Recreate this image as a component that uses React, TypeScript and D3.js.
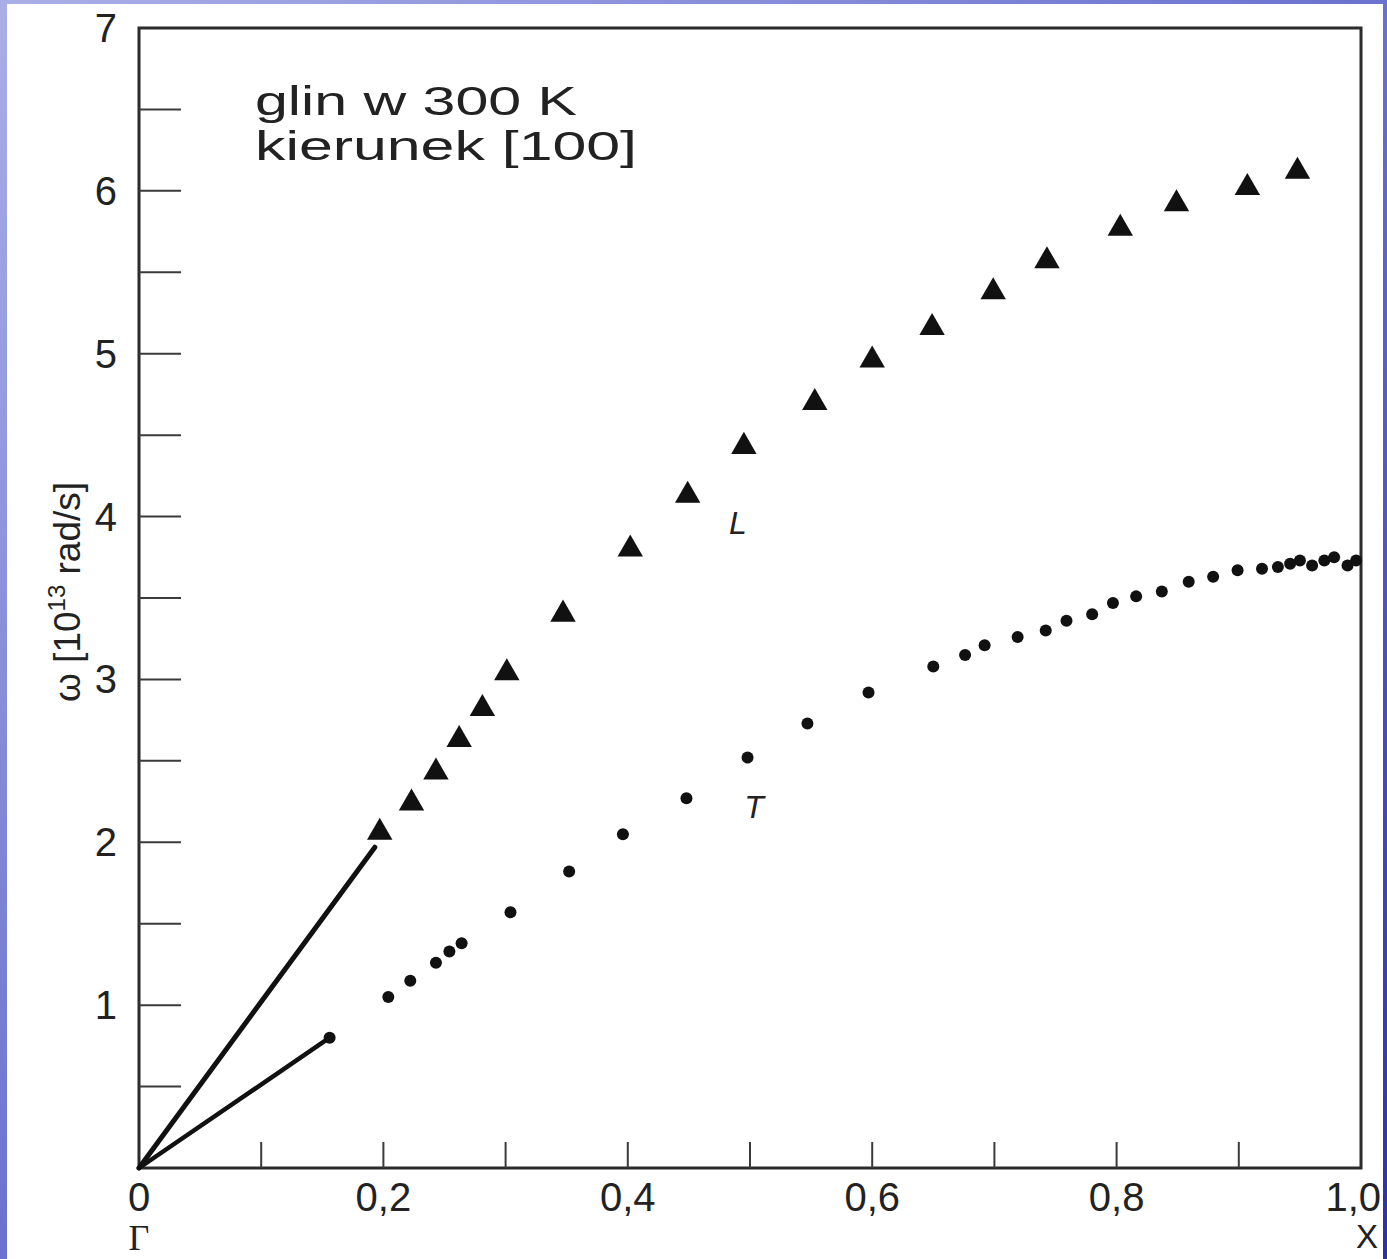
import React from "react";
import * as d3 from "d3";

const W = 1387;
const H = 1259;

// Longitudinal branch (triangles), x in units of Γ→X, ω in 10^13 rad/s
const lX = [0.197, 0.223, 0.243, 0.262, 0.281, 0.301, 0.347, 0.402, 0.449, 0.495, 0.553, 0.6, 0.649, 0.699, 0.743, 0.803, 0.849, 0.907, 0.948];
const lY = [2.06, 2.24, 2.43, 2.63, 2.82, 3.04, 3.4, 3.8, 4.13, 4.43, 4.7, 4.96, 5.16, 5.38, 5.57, 5.77, 5.92, 6.02, 6.12];

// Transverse branch (dots)
const tX = [0.156, 0.204, 0.222, 0.243, 0.254, 0.264, 0.304, 0.352, 0.396, 0.448, 0.498, 0.547, 0.597, 0.65, 0.676, 0.692, 0.719, 0.742, 0.759, 0.78, 0.797, 0.816, 0.837, 0.859, 0.879, 0.899, 0.919, 0.932, 0.942, 0.95, 0.96, 0.97, 0.978, 0.989, 0.996];
const tY = [0.8, 1.05, 1.15, 1.26, 1.33, 1.38, 1.57, 1.82, 2.05, 2.27, 2.52, 2.73, 2.92, 3.08, 3.15, 3.21, 3.26, 3.3, 3.36, 3.4, 3.47, 3.51, 3.54, 3.6, 3.63, 3.67, 3.68, 3.69, 3.71, 3.73, 3.7, 3.73, 3.75, 3.7, 3.73];

// Low-q straight lines (sound velocity)
const lLine = [[0, 0], [0.193, 1.97]];
const tLine = [[0, 0], [0.156, 0.8]];

const yTickValues = [0.5, 1, 1.5, 2, 2.5, 3, 3.5, 4, 4.5, 5, 5.5, 6, 6.5];
const yLabelValues = [1, 2, 3, 4, 5, 6, 7];
const xTickValues = [0.1, 0.2, 0.3, 0.4, 0.5, 0.6, 0.7, 0.8, 0.9];
const xLabelValues = [0, 0.2, 0.4, 0.6, 0.8, 1.0];
const xLabelTexts = ["0", "0,2", "0,4", "0,6", "0,8", "1,0"];

const FONT = "'Liberation Sans', Arial, sans-serif";

export default function App() {
  const x = d3.scaleLinear().domain([0, 1]).range([139, 1361]);
  const y = d3.scaleLinear().domain([0, 7]).range([1168, 28]);
  const line = d3.line<number[]>().x((d) => x(d[0])).y((d) => y(d[1]));
  const tri = d3.symbol().type(d3.symbolTriangle).size(280);
  const ink = "#111";
  const axisInk = "#2b2b2b";

  return (
    <svg width={W} height={H} style={{ position: "absolute", left: 0, top: 0 }} xmlns="http://www.w3.org/2000/svg">
      <defs>
        <linearGradient id="bg" x1="0" y1="0" x2="1" y2="1">
          <stop offset="0" stopColor="#a9afe6" />
          <stop offset="0.45" stopColor="#7078d2" />
          <stop offset="1" stopColor="#2f30a8" />
        </linearGradient>
        <clipPath id="paper">
          <rect x={7} y={4} width={1376} height={H - 4} />
        </clipPath>
      </defs>
      <rect x={0} y={0} width={W} height={H} fill="url(#bg)" />
      <g clipPath="url(#paper)">
        <rect x={7} y={4} width={1376} height={H - 4} fill="#ffffff" />

        {/* frame */}
        <rect x={x(0)} y={y(7)} width={x(1) - x(0)} height={y(0) - y(7)} fill="none" stroke={axisInk} strokeWidth={3} />

        {/* y ticks (inward) */}
        {yTickValues.map((v) => (
          <line key={"yt" + v} x1={x(0)} x2={x(0) + 42} y1={y(v)} y2={y(v)} stroke="#3a3a3a" strokeWidth={2} />
        ))}
        {/* x ticks (inward) */}
        {xTickValues.map((v) => (
          <line key={"xt" + v} x1={x(v)} x2={x(v)} y1={y(0)} y2={y(0) - 26} stroke="#3a3a3a" strokeWidth={2} />
        ))}

        {/* y tick labels */}
        {yLabelValues.map((v) => (
          <text key={"yl" + v} x={117} y={y(v) + 14} textAnchor="end" fontFamily={FONT} fontSize={40} fill="#222">
            {v}
          </text>
        ))}
        {/* x tick labels */}
        {xLabelValues.map((v, i) => (
          <text key={"xl" + v} x={i === xLabelValues.length - 1 ? 1381 : x(v)} y={1211} textAnchor={i === xLabelValues.length - 1 ? "end" : "middle"} fontFamily={FONT} fontSize={40} fill="#222">
            {xLabelTexts[i]}
          </text>
        ))}
        <text x={x(0)} y={1250} textAnchor="middle" fontFamily="'Liberation Serif', serif" fontSize={36} fill="#222">Γ</text>
        <text x={1378} y={1248} textAnchor="end" fontFamily={FONT} fontSize={33} fill="#222">X</text>

        {/* y axis title */}
        <text transform={`translate(80, 592) rotate(-90)`} textAnchor="middle" fontFamily={FONT} fontSize={37} fill="#222">
          <tspan>ω [10</tspan>
          <tspan fontSize={24} dy={-15}>13</tspan>
          <tspan dy={15}> rad/s]</tspan>
        </text>

        {/* annotation */}
        <text x={255} y={115} fontFamily={FONT} fontSize={40} fill="#222" textLength={322} lengthAdjust="spacingAndGlyphs">glin w 300 K</text>
        <text x={255} y={160} fontFamily={FONT} fontSize={40} fill="#222" textLength={382} lengthAdjust="spacingAndGlyphs">kierunek [100]</text>

        {/* straight lines from Γ */}
        <path d={line(lLine) || ""} stroke={ink} strokeWidth={5} fill="none" strokeLinecap="round" />
        <path d={line(tLine) || ""} stroke={ink} strokeWidth={4.5} fill="none" strokeLinecap="round" />

        {/* L triangles */}
        {lX.map((v, i) => (
          <path key={"L" + i} d={tri() || ""} transform={`translate(${x(v)},${y(lY[i])})`} fill={ink} />
        ))}
        {/* T dots */}
        {tX.map((v, i) => (
          <circle key={"T" + i} cx={x(v)} cy={y(tY[i])} r={6} fill={ink} />
        ))}

        {/* branch labels */}
        <text x={738} y={534} textAnchor="middle" fontFamily={FONT} fontStyle="italic" fontSize={32} fill="#222">L</text>
        <text x={754} y={818} textAnchor="middle" fontFamily={FONT} fontStyle="italic" fontSize={32} fill="#222">T</text>
      </g>
    </svg>
  );
}
